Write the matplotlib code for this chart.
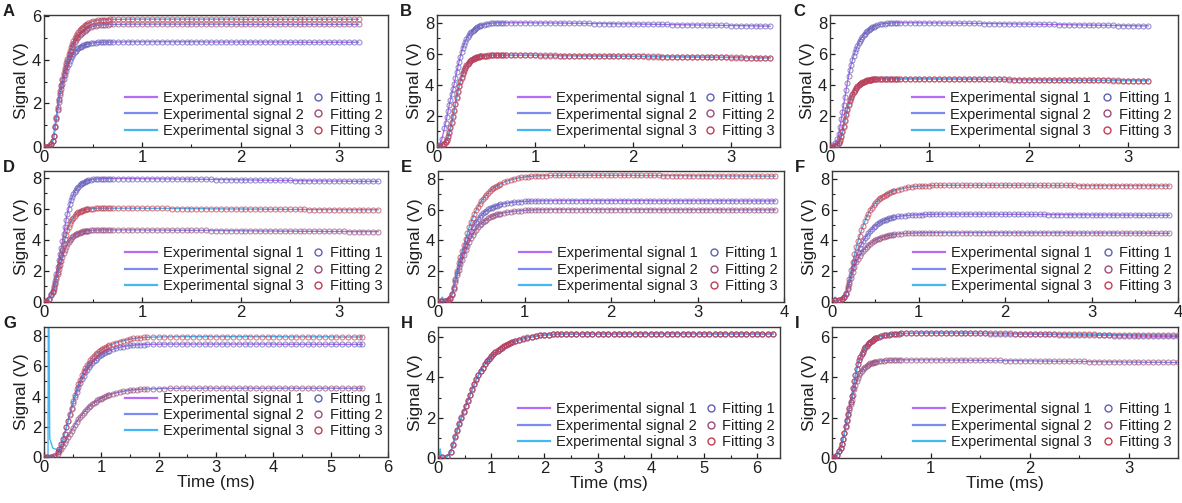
import matplotlib
matplotlib.use("Agg")
import matplotlib.pyplot as plt
from matplotlib.lines import Line2D
from matplotlib.ticker import MultipleLocator

plt.rcParams['font.family'] = ['Liberation Sans', 'DejaVu Sans']

# sampling times (ms): dense over the rise, coarser on the plateau
rise_fast = [0, .025, .05, .075, .1, .125, .15, .175, .2, .225,
             .25, .275, .3, .325, .35, .375, .4, .425, .45, .475,
             .5, .525, .55, .575, .6, .625, .65, .675, .7]
steep_fast = [.0875, .1125, .1375, .1625, .1875, .2125, .2375, .2625, .2875, .3125,
              .3375, .3625, .3875, .4125, .4375]
tail_32 = [0.75, 0.8, 0.85, 0.9, 0.95, 1.0, 1.05, 1.1, 1.15, 1.2,
           1.25, 1.3, 1.35, 1.4, 1.45, 1.5, 1.55, 1.6, 1.65, 1.7,
           1.75, 1.8, 1.85, 1.9, 1.95, 2.0, 2.05, 2.1, 2.15, 2.2,
           2.25, 2.3, 2.35, 2.4, 2.45, 2.5, 2.55, 2.6, 2.65, 2.7,
           2.75, 2.8, 2.85, 2.9, 2.95, 3.0, 3.05, 3.1, 3.15, 3.2]
tail_34 = tail_32 + [3.25, 3.3, 3.35, 3.4]
tail_36 = tail_34 + [3.45, 3.5, 3.55, 3.6]
rise_mid = [0, .04, .08, .12, .16, .2, .24, .28, .32, .36,
            .4, .44, .48, .52, .56, .6, .64, .68, .72, .76,
            .8, .84, .88, .92, .96, 1.0, 1.04, 1.08, 1.12, 1.16,
            1.2]
steep_mid = [.14, .18, .22, .26, .3, .34, .38, .42, .46, .5,
             .54, .58, .62, .66, .7]
tail_39 = [1.25, 1.3, 1.35, 1.4, 1.45, 1.5, 1.55, 1.6, 1.65, 1.7,
           1.75, 1.8, 1.85, 1.9, 1.95, 2.0, 2.05, 2.1, 2.15, 2.2,
           2.25, 2.3, 2.35, 2.4, 2.45, 2.5, 2.55, 2.6, 2.65, 2.7,
           2.75, 2.8, 2.85, 2.9, 2.95, 3.0, 3.05, 3.1, 3.15, 3.2,
           3.25, 3.3, 3.35, 3.4, 3.45, 3.5, 3.55, 3.6, 3.65, 3.7,
           3.75, 3.8, 3.85, 3.9]
rise_g = [0, .06, .12, .18, .24, .3, .36, .42, .48, .54,
          .6, .66, .72, .78, .84, .9, .96, 1.02, 1.08, 1.14,
          1.2, 1.26, 1.32, 1.38, 1.44, 1.5, 1.56, 1.62, 1.68, 1.74,
          1.8]
steep_g = [.27, .33, .39, .45, .51, .57, .63, .69, .75, .81,
           .87, .93, .99, 1.05, 1.11]
tail_g = [1.9, 2.0, 2.1, 2.2, 2.3, 2.4, 2.5, 2.6, 2.7, 2.8,
          2.9, 3.0, 3.1, 3.2, 3.3, 3.4, 3.5, 3.6, 3.7, 3.8,
          3.9, 4.0, 4.1, 4.2, 4.3, 4.4, 4.5, 4.6, 4.7, 4.8,
          4.9, 5.0, 5.1, 5.2, 5.3, 5.4, 5.5, 5.55]
rise_h = [0, .08, .16, .24, .32, .4, .48, .56, .64, .72,
          .8, .88, .96, 1.04, 1.12, 1.2, 1.28, 1.36, 1.44, 1.52,
          1.6, 1.68, 1.76, 1.84, 1.92, 2.0, 2.08, 2.16, 2.24, 2.32,
          2.4]
steep_h = [.28, .36, .44, .52, .6, .68, .76, .84, .92, 1.0,
           1.08, 1.16, 1.24, 1.32, 1.4]
tail_h = [2.5, 2.6, 2.7, 2.8, 2.9, 3.0, 3.1, 3.2, 3.3, 3.4,
          3.5, 3.6, 3.7, 3.8, 3.9, 4.0, 4.1, 4.2, 4.3, 4.4,
          4.5, 4.6, 4.7, 4.8, 4.9, 5.0, 5.1, 5.2, 5.3, 5.4,
          5.5, 5.6, 5.7, 5.8, 5.9, 6.0, 6.1, 6.2, 6.3]

# ---- A ----
a_sig1 = [0, 0.02, 0.05, 0.12, 0.5, 1.3, 2.05, 2.65, 3.1, 3.5,
          3.82, 4.07, 4.27, 4.42, 4.53, 4.61, 4.67, 4.71, 4.74, 4.77,
          4.78, 4.79, 4.8, 4.81, 4.81, 4.82, 4.82, 4.82, 4.82,
          4.82, 4.82, 4.83, 4.83, 4.83, 4.83, 4.83, 4.83, 4.83, 4.83,
          4.83, 4.83, 4.83, 4.83, 4.83, 4.83, 4.83, 4.83, 4.82, 4.82,
          4.82, 4.82, 4.82, 4.82, 4.82, 4.82, 4.82, 4.82, 4.82, 4.82,
          4.82, 4.82, 4.82, 4.82, 4.82, 4.81, 4.81, 4.81, 4.81, 4.81,
          4.81, 4.81, 4.81, 4.81, 4.81, 4.81, 4.81, 4.81, 4.81, 4.81]
a_sig2 = [0, 0.02, 0.05, 0.12, 0.5, 1.35, 2.15, 2.8, 3.3, 3.75,
          4.12, 4.43, 4.7, 4.9, 5.07, 5.2, 5.3, 5.38, 5.45, 5.5,
          5.54, 5.57, 5.59, 5.6, 5.61, 5.62, 5.62, 5.63, 5.63,
          5.63, 5.63, 5.64, 5.64, 5.64, 5.64, 5.64, 5.64, 5.64, 5.64,
          5.64, 5.64, 5.64, 5.64, 5.64, 5.64, 5.64, 5.64, 5.64, 5.64,
          5.64, 5.64, 5.64, 5.63, 5.63, 5.63, 5.63, 5.63, 5.63, 5.63,
          5.63, 5.63, 5.63, 5.63, 5.63, 5.63, 5.63, 5.63, 5.63, 5.63,
          5.63, 5.63, 5.63, 5.63, 5.63, 5.63, 5.63, 5.63, 5.63, 5.63]
a_sig3 = [0, 0.02, 0.05, 0.12, 0.5, 1.4, 2.2, 2.85, 3.4, 3.85,
          4.25, 4.6, 4.88, 5.1, 5.28, 5.42, 5.53, 5.62, 5.68, 5.73,
          5.77, 5.8, 5.82, 5.83, 5.84, 5.85, 5.85, 5.86, 5.86,
          5.86, 5.86, 5.87, 5.87, 5.87, 5.87, 5.87, 5.87, 5.87, 5.87,
          5.87, 5.87, 5.87, 5.87, 5.87, 5.87, 5.87, 5.87, 5.87, 5.87,
          5.87, 5.87, 5.87, 5.87, 5.87, 5.86, 5.86, 5.86, 5.86, 5.86,
          5.86, 5.86, 5.86, 5.86, 5.86, 5.86, 5.86, 5.86, 5.86, 5.86,
          5.86, 5.86, 5.86, 5.86, 5.86, 5.86, 5.86, 5.86, 5.86, 5.86]
a_steep1 = [0.28, 0.9, 1.7, 2.37, 2.9, 3.31, 3.67, 3.95, 4.18, 4.35, 4.48, 4.57, 4.64, 4.69, 4.73]
a_steep2 = [0.28, 0.92, 1.76, 2.5, 3.06, 3.53, 3.94, 4.28, 4.57, 4.8, 4.99, 5.14, 5.25, 5.34, 5.42]
a_steep3 = [0.28, 0.95, 1.82, 2.55, 3.14, 3.63, 4.06, 4.43, 4.75, 5.0, 5.2, 5.36, 5.48, 5.58, 5.65]

# ---- B ----
b_sig1 = [0, 0.15, 0.5, 1.2, 1.9, 2.7, 3.4, 4.05, 4.8, 5.5,
          6.1, 6.6, 6.95, 7.2, 7.4, 7.55, 7.67, 7.76, 7.83, 7.88,
          7.92, 7.95, 7.97, 7.98, 7.99, 8.0, 8.0, 8.0, 8.0,
          8.0, 8.0, 8.0, 8.0, 8.0, 7.99, 7.99, 7.99, 7.99, 7.98,
          7.98, 7.98, 7.97, 7.97, 7.97, 7.96, 7.96, 7.95, 7.95, 7.95,
          7.94, 7.94, 7.93, 7.93, 7.93, 7.92, 7.92, 7.91, 7.91, 7.9,
          7.9, 7.89, 7.89, 7.88, 7.88, 7.87, 7.87, 7.86, 7.86, 7.85,
          7.85, 7.84, 7.84, 7.83, 7.83, 7.82, 7.82, 7.81, 7.81, 7.8,
          7.8, 7.79, 7.79, 7.78]
b_sig2 = [0, 0.05, 0.1, 0.2, 0.45, 0.95, 1.6, 2.4, 3.2, 3.95,
          4.5, 4.95, 5.25, 5.45, 5.6, 5.7, 5.77, 5.82, 5.85, 5.87,
          5.89, 5.9, 5.9, 5.91, 5.91, 5.91, 5.91, 5.91, 5.91,
          5.91, 5.91, 5.91, 5.91, 5.91, 5.91, 5.9, 5.9, 5.9, 5.9,
          5.89, 5.89, 5.89, 5.88, 5.88, 5.88, 5.87, 5.87, 5.87, 5.86,
          5.86, 5.86, 5.85, 5.85, 5.85, 5.84, 5.84, 5.84, 5.83, 5.83,
          5.83, 5.82, 5.82, 5.81, 5.81, 5.81, 5.8, 5.8, 5.8, 5.79,
          5.79, 5.79, 5.78, 5.78, 5.78, 5.77, 5.77, 5.77, 5.76, 5.76,
          5.76, 5.75, 5.75, 5.75]
b_sig3 = [0, 0.05, 0.1, 0.2, 0.45, 0.9, 1.55, 2.35, 3.15, 3.9,
          4.45, 4.9, 5.22, 5.43, 5.58, 5.69, 5.76, 5.81, 5.84, 5.86,
          5.88, 5.89, 5.9, 5.9, 5.9, 5.9, 5.9, 5.9, 5.9,
          5.9, 5.9, 5.9, 5.9, 5.9, 5.9, 5.89, 5.89, 5.89, 5.89,
          5.88, 5.88, 5.88, 5.87, 5.87, 5.87, 5.86, 5.86, 5.86, 5.85,
          5.85, 5.85, 5.84, 5.84, 5.84, 5.83, 5.83, 5.83, 5.82, 5.82,
          5.82, 5.81, 5.81, 5.8, 5.8, 5.8, 5.79, 5.79, 5.79, 5.78,
          5.78, 5.78, 5.77, 5.77, 5.77, 5.76, 5.76, 5.76, 5.75, 5.75,
          5.75, 5.74, 5.74, 5.74]
b_steep1 = [1.55, 2.3, 3.05, 3.72, 4.42, 5.16, 5.82, 6.37, 6.79, 7.08, 7.31, 7.48, 7.61, 7.72, 7.8]
b_steep2 = [0.3, 0.68, 1.26, 2.0, 2.8, 3.6, 4.25, 4.74, 5.11, 5.36, 5.53, 5.65, 5.74, 5.8, 5.84]
b_steep3 = [0.3, 0.65, 1.2, 1.95, 2.75, 3.55, 4.2, 4.69, 5.07, 5.33, 5.51, 5.64, 5.73, 5.79, 5.83]

# ---- C ----
c_sig1 = [0, 0.1, 0.25, 0.5, 1.3, 2.25, 3.2, 4.15, 4.95, 5.6,
          6.1, 6.5, 6.85, 7.1, 7.3, 7.47, 7.6, 7.7, 7.78, 7.84,
          7.89, 7.93, 7.95, 7.97, 7.98, 7.99, 8.0, 8.0, 8.0,
          8.0, 8.0, 8.0, 8.0, 7.99, 7.99, 7.99, 7.99, 7.98, 7.98,
          7.98, 7.97, 7.97, 7.97, 7.96, 7.96, 7.95, 7.95, 7.95, 7.94,
          7.94, 7.93, 7.93, 7.92, 7.92, 7.91, 7.91, 7.9, 7.9, 7.89,
          7.89, 7.88, 7.88, 7.87, 7.87, 7.86, 7.86, 7.85, 7.85, 7.84,
          7.84, 7.83, 7.83, 7.82, 7.82, 7.81, 7.81, 7.8, 7.8, 7.8]
c_sig2 = [0, 0.02, 0.05, 0.15, 0.4, 0.95, 1.7, 2.4, 2.95, 3.35,
          3.65, 3.88, 4.04, 4.15, 4.23, 4.29, 4.32, 4.35, 4.36, 4.37,
          4.38, 4.38, 4.39, 4.39, 4.39, 4.39, 4.39, 4.39, 4.39,
          4.39, 4.39, 4.39, 4.39, 4.39, 4.39, 4.38, 4.38, 4.38, 4.38,
          4.38, 4.37, 4.37, 4.37, 4.37, 4.36, 4.36, 4.36, 4.36, 4.35,
          4.35, 4.35, 4.34, 4.34, 4.34, 4.33, 4.33, 4.33, 4.32, 4.32,
          4.32, 4.31, 4.31, 4.31, 4.31, 4.3, 4.3, 4.3, 4.3, 4.29,
          4.29, 4.29, 4.29, 4.29, 4.28, 4.28, 4.28, 4.28, 4.28, 4.28]
c_sig3 = [0, 0.02, 0.05, 0.15, 0.42, 1.0, 1.75, 2.45, 3.0, 3.4,
          3.7, 3.9, 4.05, 4.16, 4.24, 4.3, 4.33, 4.35, 4.36, 4.37,
          4.38, 4.38, 4.38, 4.39, 4.39, 4.39, 4.39, 4.39, 4.39,
          4.39, 4.39, 4.39, 4.39, 4.39, 4.38, 4.38, 4.38, 4.38, 4.38,
          4.37, 4.37, 4.37, 4.37, 4.36, 4.36, 4.36, 4.36, 4.35, 4.35,
          4.35, 4.34, 4.34, 4.34, 4.33, 4.33, 4.33, 4.33, 4.32, 4.32,
          4.32, 4.31, 4.31, 4.31, 4.3, 4.3, 4.3, 4.3, 4.29, 4.29,
          4.29, 4.29, 4.28, 4.28, 4.28, 4.28, 4.28, 4.27, 4.27, 4.27]
c_steep1 = [0.85, 1.78, 2.72, 3.68, 4.57, 5.3, 5.87, 6.31, 6.68, 6.98, 7.2, 7.39, 7.54, 7.65, 7.74]
c_steep2 = [0.25, 0.65, 1.32, 2.06, 2.7, 3.17, 3.51, 3.77, 3.97, 4.1, 4.19, 4.26, 4.31, 4.34, 4.36]
c_steep3 = [0.26, 0.68, 1.38, 2.1, 2.75, 3.22, 3.56, 3.81, 3.98, 4.11, 4.2, 4.27, 4.32, 4.34, 4.36]

# ---- D ----
d_sig1 = [0, 0.05, 0.2, 0.5, 1.0, 1.8, 2.7, 3.5, 4.4, 5.3,
          6.0, 6.55, 6.95, 7.25, 7.45, 7.6, 7.7, 7.78, 7.84, 7.88,
          7.91, 7.93, 7.94, 7.95, 7.96, 7.96, 7.96, 7.96, 7.96,
          7.96, 7.96, 7.96, 7.96, 7.96, 7.95, 7.95, 7.95, 7.95, 7.94,
          7.94, 7.94, 7.93, 7.93, 7.93, 7.92, 7.92, 7.92, 7.91, 7.91,
          7.9, 7.9, 7.9, 7.89, 7.89, 7.88, 7.88, 7.87, 7.87, 7.86,
          7.86, 7.85, 7.85, 7.84, 7.84, 7.84, 7.83, 7.83, 7.82, 7.82,
          7.81, 7.81, 7.81, 7.8, 7.8, 7.8, 7.79, 7.79, 7.79, 7.78,
          7.78, 7.78, 7.78, 7.78]
d_sig2 = [0, 0.05, 0.2, 0.45, 0.85, 1.5, 2.1, 2.65, 3.15, 3.55,
          3.85, 4.08, 4.25, 4.37, 4.45, 4.51, 4.55, 4.58, 4.6, 4.62,
          4.63, 4.64, 4.64, 4.65, 4.65, 4.65, 4.65, 4.65, 4.65,
          4.65, 4.65, 4.65, 4.65, 4.65, 4.65, 4.64, 4.64, 4.64, 4.64,
          4.64, 4.63, 4.63, 4.63, 4.63, 4.62, 4.62, 4.62, 4.62, 4.61,
          4.61, 4.61, 4.6, 4.6, 4.6, 4.6, 4.59, 4.59, 4.59, 4.58,
          4.58, 4.58, 4.58, 4.57, 4.57, 4.57, 4.57, 4.56, 4.56, 4.56,
          4.56, 4.56, 4.55, 4.55, 4.55, 4.55, 4.55, 4.54, 4.54, 4.54,
          4.54, 4.54, 4.54, 4.54]
d_sig3 = [0, 0.05, 0.2, 0.45, 0.9, 1.6, 2.3, 3.0, 3.75, 4.35,
          4.85, 5.2, 5.45, 5.65, 5.78, 5.87, 5.93, 5.97, 6.0, 6.02,
          6.03, 6.04, 6.05, 6.05, 6.05, 6.05, 6.05, 6.05, 6.05,
          6.05, 6.05, 6.05, 6.05, 6.05, 6.05, 6.04, 6.04, 6.04, 6.04,
          6.04, 6.03, 6.03, 6.03, 6.03, 6.02, 6.02, 6.02, 6.02, 6.01,
          6.01, 6.01, 6.0, 6.0, 6.0, 6.0, 5.99, 5.99, 5.99, 5.99,
          5.98, 5.98, 5.98, 5.98, 5.97, 5.97, 5.97, 5.97, 5.97, 5.96,
          5.96, 5.96, 5.96, 5.96, 5.96, 5.95, 5.95, 5.95, 5.95, 5.95,
          5.95, 5.95, 5.95, 5.95]
d_steep1 = [0.72, 1.38, 2.25, 3.1, 3.95, 4.85, 5.68, 6.3, 6.77, 7.11, 7.36, 7.53, 7.65, 7.74, 7.81]
d_steep2 = [0.63, 1.17, 1.8, 2.38, 2.9, 3.36, 3.71, 3.97, 4.17, 4.31, 4.41, 4.48, 4.53, 4.57, 4.59]
d_steep3 = [0.65, 1.23, 1.95, 2.65, 3.37, 4.07, 4.62, 5.04, 5.33, 5.56, 5.72, 5.83, 5.9, 5.95, 5.99]

# ---- E ----
e_sig1 = [0, 0.05, 0.05, 0.1, 0.5, 1.4, 2.3, 3.05, 3.7, 4.3,
          4.85, 5.2, 5.5, 5.75, 5.93, 6.08, 6.18, 6.26, 6.33, 6.38,
          6.42, 6.45, 6.48, 6.5, 6.52, 6.53, 6.54, 6.55, 6.56, 6.56,
          6.57,
          6.57, 6.57, 6.58, 6.58, 6.58, 6.58, 6.58, 6.58, 6.58, 6.58,
          6.58, 6.58, 6.58, 6.58, 6.58, 6.58, 6.58, 6.58, 6.58, 6.58,
          6.58, 6.58, 6.58, 6.58, 6.58, 6.57, 6.57, 6.57, 6.57, 6.57,
          6.57, 6.57, 6.57, 6.57, 6.57, 6.57, 6.57, 6.57, 6.57, 6.57,
          6.57, 6.57, 6.57, 6.57, 6.56, 6.56, 6.56, 6.56, 6.56, 6.56,
          6.56, 6.56, 6.56, 6.56]
e_sig2 = [0, 0.05, 0.05, 0.1, 0.45, 1.3, 2.1, 2.75, 3.35, 3.9,
          4.35, 4.7, 4.98, 5.18, 5.35, 5.5, 5.6, 5.68, 5.74, 5.79,
          5.83, 5.86, 5.89, 5.91, 5.93, 5.95, 5.96, 5.97, 5.98, 5.99,
          5.99,
          5.99, 6.0, 6.0, 6.0, 6.0, 6.0, 6.0, 6.0, 6.0, 6.0,
          6.0, 6.0, 6.0, 6.0, 6.0, 6.0, 6.0, 6.0, 6.0, 6.0,
          6.0, 6.0, 6.0, 6.0, 6.0, 5.99, 5.99, 5.99, 5.99, 5.99,
          5.99, 5.99, 5.99, 5.99, 5.99, 5.99, 5.99, 5.99, 5.99, 5.99,
          5.99, 5.99, 5.98, 5.98, 5.98, 5.98, 5.98, 5.98, 5.98, 5.98,
          5.98, 5.98, 5.98, 5.98]
e_sig3 = [0, 0.05, 0.05, 0.1, 0.5, 1.5, 2.5, 3.3, 4.1, 4.85,
          5.45, 5.95, 6.35, 6.7, 6.95, 7.2, 7.38, 7.53, 7.66, 7.77,
          7.86, 7.93, 7.99, 8.04, 8.08, 8.11, 8.14, 8.16, 8.18, 8.19,
          8.2,
          8.2, 8.21, 8.21, 8.21, 8.22, 8.22, 8.22, 8.22, 8.22, 8.22,
          8.22, 8.22, 8.22, 8.22, 8.22, 8.22, 8.22, 8.22, 8.22, 8.22,
          8.22, 8.21, 8.21, 8.21, 8.21, 8.21, 8.21, 8.2, 8.2, 8.2,
          8.2, 8.2, 8.2, 8.19, 8.19, 8.19, 8.19, 8.19, 8.19, 8.18,
          8.18, 8.18, 8.18, 8.18, 8.18, 8.18, 8.17, 8.17, 8.17, 8.17,
          8.17, 8.17, 8.17, 8.17]
e_steep1 = [0.25, 0.92, 1.85, 2.7, 3.4, 4.0, 4.58, 5.04, 5.36, 5.63, 5.85, 6.01, 6.13, 6.22, 6.3]
e_steep2 = [0.22, 0.85, 1.72, 2.44, 3.06, 3.63, 4.14, 4.54, 4.85, 5.09, 5.27, 5.43, 5.55, 5.64, 5.71]
e_steep3 = [0.25, 0.98, 2.02, 2.92, 3.7, 4.48, 5.17, 5.72, 6.17, 6.54, 6.83, 7.08, 7.3, 7.46, 7.6]

# ---- F ----
f_sig1 = [0, 0.1, 0.1, 0.2, 0.55, 1.3, 2.2, 2.95, 3.5, 3.95,
          4.3, 4.6, 4.85, 5.03, 5.18, 5.3, 5.39, 5.46, 5.51, 5.55,
          5.58, 5.6, 5.62, 5.64, 5.65, 5.66, 5.67, 5.68, 5.69, 5.69,
          5.7,
          5.7, 5.7, 5.7, 5.7, 5.7, 5.7, 5.7, 5.7, 5.7, 5.7,
          5.7, 5.7, 5.7, 5.7, 5.69, 5.69, 5.69, 5.69, 5.69, 5.69,
          5.68, 5.68, 5.68, 5.68, 5.68, 5.67, 5.67, 5.67, 5.67, 5.67,
          5.66, 5.66, 5.66, 5.66, 5.66, 5.65, 5.65, 5.65, 5.65, 5.65,
          5.64, 5.64, 5.64, 5.64, 5.64, 5.64, 5.63, 5.63, 5.63, 5.63,
          5.63, 5.63, 5.63, 5.63]
f_sig2 = [0, 0.1, 0.1, 0.2, 0.5, 1.2, 1.95, 2.6, 3.0, 3.32,
          3.58, 3.78, 3.94, 4.07, 4.17, 4.24, 4.3, 4.35, 4.38, 4.41,
          4.43, 4.45, 4.46, 4.47, 4.48, 4.49, 4.49, 4.5, 4.5, 4.5,
          4.5,
          4.5, 4.5, 4.5, 4.5, 4.5, 4.5, 4.5, 4.5, 4.5, 4.5,
          4.5, 4.5, 4.5, 4.5, 4.5, 4.49, 4.49, 4.49, 4.49, 4.49,
          4.49, 4.49, 4.49, 4.49, 4.49, 4.49, 4.49, 4.49, 4.49, 4.49,
          4.48, 4.48, 4.48, 4.48, 4.48, 4.48, 4.48, 4.48, 4.48, 4.48,
          4.48, 4.48, 4.47, 4.47, 4.47, 4.47, 4.47, 4.47, 4.47, 4.47,
          4.46, 4.46, 4.46, 4.46]
f_sig3 = [0, 0.1, 0.1, 0.2, 0.6, 1.5, 2.6, 3.55, 4.3, 4.95,
          5.5, 5.95, 6.28, 6.55, 6.75, 6.9, 7.03, 7.13, 7.22, 7.29,
          7.35, 7.4, 7.44, 7.47, 7.5, 7.52, 7.53, 7.54, 7.55, 7.56,
          7.56,
          7.57, 7.57, 7.57, 7.57, 7.57, 7.57, 7.57, 7.57, 7.57, 7.57,
          7.57, 7.57, 7.57, 7.57, 7.57, 7.57, 7.57, 7.57, 7.57, 7.57,
          7.57, 7.57, 7.56, 7.56, 7.56, 7.56, 7.56, 7.56, 7.56, 7.56,
          7.56, 7.56, 7.55, 7.55, 7.55, 7.55, 7.55, 7.55, 7.55, 7.55,
          7.55, 7.55, 7.55, 7.55, 7.55, 7.55, 7.55, 7.55, 7.55, 7.55,
          7.54, 7.54, 7.54, 7.54]
f_steep1 = [0.33, 0.9, 1.75, 2.6, 3.24, 3.74, 4.14, 4.46, 4.73, 4.95, 5.11, 5.24, 5.35, 5.43, 5.49]
f_steep2 = [0.3, 0.82, 1.58, 2.3, 2.82, 3.17, 3.46, 3.69, 3.87, 4.01, 4.12, 4.21, 4.27, 4.33, 4.37]
f_steep3 = [0.35, 1.02, 2.05, 3.1, 3.95, 4.64, 5.24, 5.74, 6.13, 6.42, 6.66, 6.83, 6.97, 7.08, 7.18]

# ---- G ----
g_sig1 = [0, 0.02, 0.02, 0.05, 0.3, 0.85, 1.55, 2.4, 3.2, 3.95,
          4.6, 5.15, 5.6, 5.95, 6.22, 6.45, 6.65, 6.8, 6.92, 7.03,
          7.12, 7.2, 7.26, 7.31, 7.35, 7.38, 7.4, 7.42, 7.43, 7.44,
          7.45,
          7.46, 7.46, 7.47, 7.47, 7.47, 7.47, 7.47, 7.47, 7.47, 7.47,
          7.47, 7.47, 7.47, 7.47, 7.47, 7.47, 7.47, 7.47, 7.47, 7.47,
          7.47, 7.47, 7.46, 7.46, 7.46, 7.46, 7.46, 7.46, 7.46, 7.46,
          7.46, 7.46, 7.45, 7.45, 7.45, 7.45, 7.45, 7.45]
g_sig2 = [0, 0.02, 0.02, 0.05, 0.2, 0.55, 0.95, 1.35, 1.75, 2.15,
          2.5, 2.8, 3.07, 3.3, 3.5, 3.67, 3.81, 3.93, 4.03, 4.12,
          4.19, 4.25, 4.3, 4.35, 4.39, 4.42, 4.44, 4.46, 4.48, 4.49,
          4.5,
          4.51, 4.52, 4.53, 4.54, 4.54, 4.55, 4.55, 4.55, 4.55, 4.55,
          4.55, 4.55, 4.55, 4.55, 4.55, 4.55, 4.55, 4.55, 4.55, 4.55,
          4.55, 4.55, 4.55, 4.55, 4.55, 4.55, 4.55, 4.55, 4.55, 4.55,
          4.55, 4.55, 4.55, 4.55, 4.55, 4.55, 4.55, 4.55]
g_sig3 = [0, 0.02, 0.02, 0.05, 0.3, 0.85, 1.55, 2.4, 3.25, 4.1,
          4.8, 5.4, 5.9, 6.25, 6.55, 6.8, 6.98, 7.13, 7.27, 7.38,
          7.48, 7.57, 7.64, 7.7, 7.75, 7.8, 7.84, 7.87, 7.89, 7.91,
          7.92,
          7.93, 7.94, 7.95, 7.95, 7.96, 7.96, 7.96, 7.96, 7.96, 7.96,
          7.96, 7.96, 7.96, 7.96, 7.96, 7.96, 7.96, 7.96, 7.96, 7.96,
          7.96, 7.96, 7.96, 7.95, 7.95, 7.95, 7.95, 7.95, 7.95, 7.95,
          7.95, 7.95, 7.94, 7.94, 7.94, 7.94, 7.94, 7.94]
g_steep1 = [0.55, 1.18, 1.97, 2.8, 3.58, 4.28, 4.88, 5.38, 5.78, 6.09, 6.34, 6.55, 6.73, 6.86, 6.98]
g_steep2 = [0.37, 0.75, 1.15, 1.55, 1.95, 2.33, 2.65, 2.94, 3.19, 3.4, 3.59, 3.74, 3.87, 3.98, 4.08]
g_steep3 = [0.55, 1.18, 1.97, 2.82, 3.68, 4.47, 5.12, 5.67, 6.09, 6.41, 6.69, 6.9, 7.06, 7.2, 7.33]
# trigger spike at the start of experimental signal 3
g_head_t = [0, 0.05, 0.07, 0.075, 0.085, 0.1, 0.12, 0.15, 0.18, 0.22]
g_head_v = [0.05, 0.05, 0.1, 9.5, 9.5, 1.2, 1.0, 0.6, 0.55, 0.5]

# ---- H ----
h_sig1 = [0, 0.03, 0.05, 0.3, 1.05, 1.7, 2.3, 2.85, 3.4, 3.9,
          4.3, 4.65, 4.93, 5.15, 5.33, 5.48, 5.6, 5.7, 5.79, 5.86,
          5.92, 5.97, 6.01, 6.05, 6.08, 6.1, 6.12, 6.13, 6.14, 6.15,
          6.15,
          6.15, 6.16, 6.16, 6.16, 6.16, 6.16, 6.16, 6.16, 6.16, 6.16,
          6.16, 6.16, 6.17, 6.17, 6.17, 6.17, 6.17, 6.17, 6.17, 6.17,
          6.17, 6.17, 6.17, 6.17, 6.17, 6.17, 6.17, 6.17, 6.17, 6.17,
          6.16, 6.16, 6.16, 6.16, 6.16, 6.16, 6.16, 6.16, 6.16]
h_sig2 = [0, 0.03, 0.05, 0.3, 1.03, 1.68, 2.28, 2.84, 3.39, 3.89,
          4.3, 4.64, 4.92, 5.14, 5.33, 5.48, 5.6, 5.7, 5.79, 5.86,
          5.92, 5.97, 6.01, 6.05, 6.08, 6.1, 6.12, 6.13, 6.14, 6.15,
          6.15,
          6.15, 6.16, 6.16, 6.16, 6.16, 6.16, 6.16, 6.16, 6.16, 6.16,
          6.16, 6.16, 6.16, 6.17, 6.17, 6.17, 6.17, 6.17, 6.17, 6.17,
          6.17, 6.17, 6.17, 6.17, 6.17, 6.16, 6.16, 6.16, 6.16, 6.16,
          6.16, 6.16, 6.16, 6.16, 6.16, 6.15, 6.15, 6.15, 6.15]
h_sig3 = [0, 0.03, 0.05, 0.31, 1.07, 1.72, 2.32, 2.87, 3.41, 3.9,
          4.31, 4.65, 4.93, 5.15, 5.34, 5.49, 5.61, 5.71, 5.8, 5.87,
          5.93, 5.98, 6.02, 6.05, 6.08, 6.1, 6.12, 6.13, 6.14, 6.15,
          6.16,
          6.16, 6.16, 6.17, 6.17, 6.17, 6.17, 6.17, 6.17, 6.17, 6.17,
          6.17, 6.17, 6.17, 6.17, 6.17, 6.17, 6.17, 6.17, 6.17, 6.17,
          6.17, 6.17, 6.17, 6.17, 6.17, 6.17, 6.17, 6.16, 6.16, 6.16,
          6.16, 6.16, 6.16, 6.16, 6.16, 6.16, 6.16, 6.16, 6.16]
h_steep1 = [0.65, 1.38, 2.0, 2.58, 3.12, 3.66, 4.11, 4.48, 4.8, 5.04, 5.24, 5.41, 5.54, 5.65, 5.75]
h_steep2 = [0.64, 1.36, 1.98, 2.56, 3.11, 3.65, 4.1, 4.47, 4.79, 5.03, 5.24, 5.41, 5.54, 5.65, 5.75]
h_steep3 = [0.67, 1.4, 2.02, 2.6, 3.14, 3.66, 4.12, 4.49, 4.8, 5.05, 5.25, 5.42, 5.55, 5.66, 5.76]
h_head_t = [0, 0.02, 0.04, 0.06, 0.08]
h_head_v = [0.05, 0.1, 0.45, 0.1, 0.03]
e_head_t = [0, 0.03, 0.05, 0.07, 0.1]
e_head_v = [0.05, 0.1, 0.32, 0.12, 0.12]
f_head_t = [0, 0.02, 0.035, 0.05, 0.08]
f_head_v = [0.08, 0.12, 0.32, 0.12, 0.1]

# ---- I ----
i_sig1 = [0, 0.05, 0.15, 0.35, 0.7, 1.25, 1.9, 2.5, 3.1, 3.8,
          4.4, 4.85, 5.15, 5.4, 5.58, 5.72, 5.82, 5.9, 5.96, 6.01,
          6.05, 6.08, 6.1, 6.12, 6.14, 6.15, 6.16, 6.17, 6.18,
          6.18, 6.19, 6.19, 6.2, 6.2, 6.2, 6.2, 6.2, 6.2, 6.2,
          6.19, 6.19, 6.19, 6.19, 6.18, 6.18, 6.18, 6.17, 6.17, 6.17,
          6.16, 6.16, 6.16, 6.15, 6.15, 6.15, 6.14, 6.14, 6.13, 6.13,
          6.13, 6.12, 6.12, 6.11, 6.11, 6.1, 6.1, 6.1, 6.09, 6.09,
          6.08, 6.08, 6.07, 6.07, 6.07, 6.06, 6.06, 6.05, 6.05, 6.05,
          6.04, 6.04, 6.04, 6.03, 6.03, 6.03, 6.02, 6.02]
i_sig2 = [0, 0.05, 0.15, 0.35, 0.7, 1.25, 1.85, 2.4, 2.9, 3.4,
          3.8, 4.1, 4.33, 4.48, 4.58, 4.66, 4.71, 4.75, 4.78, 4.8,
          4.82, 4.83, 4.84, 4.85, 4.86, 4.86, 4.87, 4.87, 4.87,
          4.87, 4.87, 4.87, 4.87, 4.87, 4.87, 4.87, 4.87, 4.86, 4.86,
          4.86, 4.86, 4.86, 4.85, 4.85, 4.85, 4.85, 4.84, 4.84, 4.84,
          4.83, 4.83, 4.83, 4.83, 4.82, 4.82, 4.82, 4.81, 4.81, 4.81,
          4.8, 4.8, 4.8, 4.8, 4.79, 4.79, 4.79, 4.78, 4.78, 4.78,
          4.77, 4.77, 4.77, 4.77, 4.76, 4.76, 4.76, 4.76, 4.75, 4.75,
          4.75, 4.75, 4.75, 4.74, 4.74, 4.74, 4.74, 4.74]
i_sig3 = [0, 0.05, 0.15, 0.35, 0.7, 1.25, 1.9, 2.5, 3.1, 3.8,
          4.4, 4.85, 5.15, 5.4, 5.58, 5.72, 5.82, 5.9, 5.96, 6.01,
          6.05, 6.08, 6.1, 6.12, 6.14, 6.15, 6.16, 6.17, 6.18,
          6.18, 6.19, 6.19, 6.2, 6.2, 6.2, 6.2, 6.2, 6.2, 6.2,
          6.2, 6.2, 6.2, 6.19, 6.19, 6.19, 6.19, 6.19, 6.18, 6.18,
          6.18, 6.18, 6.17, 6.17, 6.17, 6.17, 6.16, 6.16, 6.16, 6.15,
          6.15, 6.15, 6.15, 6.14, 6.14, 6.14, 6.13, 6.13, 6.13, 6.12,
          6.12, 6.12, 6.11, 6.11, 6.11, 6.1, 6.1, 6.1, 6.1, 6.09,
          6.09, 6.09, 6.09, 6.08, 6.08, 6.08, 6.08, 6.07]
i_steep1 = [0.5, 0.96, 1.57, 2.2, 2.8, 3.45, 4.12, 4.65, 5.01, 5.28, 5.5, 5.66, 5.77, 5.86, 5.93]
i_steep2 = [0.5, 0.96, 1.55, 2.13, 2.66, 3.15, 3.61, 3.96, 4.22, 4.41, 4.53, 4.62, 4.69, 4.73, 4.77]
i_steep3 = [0.5, 0.96, 1.57, 2.2, 2.8, 3.45, 4.12, 4.65, 5.01, 5.28, 5.5, 5.66, 5.77, 5.86, 5.93]

sig_colors = ['#b56cf7', '#7c8bf0', '#46b6f4']
fit_colors = ['#6160b6', '#9c4d7a', '#c43d53']
labels_sig = ['Experimental signal 1', 'Experimental signal 2', 'Experimental signal 3']
labels_fit = ['Fitting 1', 'Fitting 2', 'Fitting 3']

W, H = 1182, 503
fig = plt.figure(figsize=(W / 100, H / 100), dpi=100)

# letter, axes box in pixels (x0, y0, x1, y1), time grid, curves, extra rise samples,
# start glitch of signal 3, xmax, ymax, yticks, xlabel, legend height
panels = [
    ('A', (44, 15, 388, 147), rise_fast + tail_32, [a_sig1, a_sig2, a_sig3],
     (steep_fast, [a_steep1, a_steep2, a_steep3]), None, 3.5, 6.06, [0, 2, 4, 6], False, 0.07),
    ('B', (437, 15, 780, 147), rise_fast + tail_34, [b_sig1, b_sig2, b_sig3],
     (steep_fast, [b_steep1, b_steep2, b_steep3]), None, 3.5, 8.5, [0, 2, 4, 6, 8], False, 0.07),
    ('C', (830, 15, 1178, 147), rise_fast + tail_32, [c_sig1, c_sig2, c_sig3],
     (steep_fast, [c_steep1, c_steep2, c_steep3]), None, 3.5, 8.5, [0, 2, 4, 6, 8], False, 0.07),
    ('D', (44, 171, 388, 302), rise_fast + tail_34, [d_sig1, d_sig2, d_sig3],
     (steep_fast, [d_steep1, d_steep2, d_steep3]), None, 3.5, 8.45, [0, 2, 4, 6, 8], False, 0.07),
    ('E', (438, 171, 784, 302), rise_mid + tail_39, [e_sig1, e_sig2, e_sig3],
     (steep_mid, [e_steep1, e_steep2, e_steep3]), (e_head_t, e_head_v), 4, 8.5, [0, 2, 4, 6, 8], False, 0.07),
    ('F', (832, 171, 1178, 302), rise_mid + tail_39, [f_sig1, f_sig2, f_sig3],
     (steep_mid, [f_steep1, f_steep2, f_steep3]), (f_head_t, f_head_v), 4, 8.5, [0, 2, 4, 6, 8], False, 0.07),
    ('G', (44, 327, 388, 457), rise_g + tail_g, [g_sig1, g_sig2, g_sig3],
     (steep_g, [g_steep1, g_steep2, g_steep3]), (g_head_t, g_head_v), 6, 8.6, [0, 2, 4, 6, 8], True, 0.145),
    ('H', (438, 327, 780, 458), rise_h + tail_h, [h_sig1, h_sig2, h_sig3],
     (steep_h, [h_steep1, h_steep2, h_steep3]), (h_head_t, h_head_v), 6.43, 6.5, [0, 2, 4, 6], True, 0.07),
    ('I', (832, 327, 1178, 458), rise_fast + tail_36, [i_sig1, i_sig2, i_sig3],
     (steep_fast, [i_steep1, i_steep2, i_steep3]), None, 3.5, 6.5, [0, 2, 4, 6], True, 0.07),
]

ink = '#1e1e1e'
for (letter, (x0, y0, x1, y1), t, curves, steep, head, xmax, ymax, yticks,
     show_xlabel, leg_y) in panels:
    ax = fig.add_axes([x0 / W, 1 - y1 / H, (x1 - x0) / W, (y1 - y0) / H])
    series = []
    for k, v in enumerate(curves):
        if len(v) != len(t):
            print(letter, k + 1, len(t), len(v))
        pts = sorted(list(zip(t, v)) + list(zip(steep[0], steep[1][k])))
        series.append(([p[0] for p in pts], [p[1] for p in pts]))
    for k, (tt, vv) in enumerate(series):
        if head is not None and k == 2:
            cut = head[0][-1]
            vv = head[1] + [y for x, y in zip(tt, vv) if x > cut]
            tt = head[0] + [x for x in tt if x > cut]
        ax.plot(tt, vv, color=sig_colors[k], lw=1.0, zorder=2)
    for k, (tt, vv) in enumerate(series):
        ax.plot(tt, vv, ls='none', marker='o', ms=3.6, mfc='none', mec=fit_colors[k],
                mew=0.75, alpha=0.7, zorder=3)
    ax.set_xlim(0, xmax)
    ax.set_ylim(0, ymax)
    ax.set_yticks(yticks)
    ax.xaxis.set_major_locator(MultipleLocator(1))
    ax.xaxis.set_minor_locator(MultipleLocator(0.5))
    ax.yaxis.set_minor_locator(MultipleLocator(1))
    ax.tick_params(which='both', direction='in', labelsize=12, colors=ink, pad=2)
    ax.tick_params(which='major', length=3.5, width=0.9)
    ax.tick_params(which='minor', length=2, width=0.8)
    for s in ax.spines.values():
        s.set_color('#3a3a3a')
        s.set_linewidth(1.0)
    ax.set_ylabel('Signal (V)', fontsize=12.5, color=ink, labelpad=2)
    if show_xlabel:
        ax.set_xlabel('Time (ms)', fontsize=12.5, color=ink, labelpad=0)

    sig_handles = [Line2D([], [], color=c, lw=1.6) for c in sig_colors]
    fit_handles = [Line2D([], [], ls='none', marker='o', ms=5, mfc='none', mec=c, mew=1.0)
                   for c in fit_colors]
    leg1 = ax.legend(sig_handles, labels_sig, loc='lower left', bbox_to_anchor=(0.235, leg_y),
                     frameon=False, fontsize=10.5, handlelength=2.2, handletextpad=0.4,
                     labelspacing=0.15, borderpad=0, borderaxespad=0)
    for txt in leg1.get_texts():
        txt.set_color(ink)
    ax.add_artist(leg1)
    leg2 = ax.legend(fit_handles, labels_fit, loc='lower left', bbox_to_anchor=(0.78, leg_y),
                     frameon=False, fontsize=10.5, handlelength=0.8, handletextpad=0.4,
                     labelspacing=0.15, borderpad=0, borderaxespad=0)
    for txt in leg2.get_texts():
        txt.set_color(ink)

    fig.text((x0 - 41 + (4 if x0 > 400 else 0)) / W, 1 - (y0 - 11) / H, letter,
             fontsize=12, fontweight='bold', color=ink, va='top', ha='left')

fig.savefig('out.png', dpi=100)
